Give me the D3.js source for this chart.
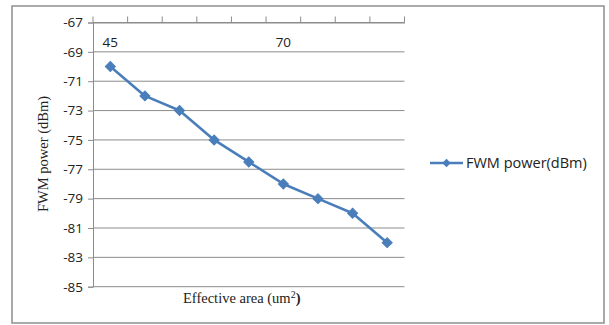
<!DOCTYPE html>
<html><head><meta charset="utf-8">
<script src="https://cdn.jsdelivr.net/npm/d3@7"></script>
<style>body{margin:0;background:#fff}svg{display:block}</style>
</head><body>
<svg id="c" width="609" height="325"></svg>
<script>
const categories = [45, 50, 55, 60, 65, 70, 75, 80, 85];
const shownLabels = [45, 70];
const fwmPower = [-70, -72, -73, -75, -76.5, -78, -79, -80, -82];
const yTicks = [-67, -69, -71, -73, -75, -77, -79, -81, -83, -85];
const seriesName = "FWM power(dBm)";

const svg = d3.select("#c");
const L = 93, R = 404.5, T = 22.5, B = 286.7;
const x = d3.scaleBand().domain(categories).range([L, R]);
const y = d3.scaleLinear().domain([-85, -67]).range([B, T]);
const blue = "#4A7EBB", grid = "#8c8c8c", sans = "'Open Sans', Arial, sans-serif", serif = "'Liberation Serif', 'Times New Roman', serif";

// outer border
svg.append("rect").attr("x", 12).attr("y", 6).attr("width", 592).attr("height", 317)
  .attr("fill", "none").attr("stroke", "#8e8e8e").attr("stroke-width", 1.5);

// gridlines
svg.append("g").selectAll("line").data(yTicks).join("line")
  .attr("x1", L).attr("x2", R).attr("y1", d => y(d)).attr("y2", d => y(d))
  .attr("stroke", grid).attr("stroke-width", 1);

// y axis
const yAxis = d3.axisLeft(y).tickValues(yTicks).tickSize(5).tickPadding(5).tickFormat(d => String(d));
const gy = svg.append("g").attr("transform", `translate(${L},0)`).call(yAxis);
gy.select(".domain").attr("stroke", grid);
gy.selectAll(".tick line").attr("stroke", grid);
gy.selectAll("text").attr("font-family", sans).attr("font-size", 13.5).attr("fill", "#222");

// x axis at top (crosses at max)
const xAxis = d3.axisBottom(x).tickSize(-6).tickSizeOuter(0).tickFormat("");
const gx = svg.append("g").attr("transform", `translate(0,${T})`).call(xAxis);
gx.select(".domain").attr("stroke", grid);
gx.selectAll(".tick line").attr("stroke", grid).attr("transform", d => `translate(${-x.bandwidth()/2},0)`);
gx.append("line").attr("x1", R).attr("x2", R).attr("y1", 0).attr("y2", -6).attr("stroke", grid);
svg.append("g").selectAll("text").data(shownLabels).join("text")
  .attr("x", d => x(d) + x.bandwidth() / 2).attr("y", 47)
  .attr("text-anchor", "middle").attr("font-family", sans).attr("font-size", 13.5).attr("fill", "#222")
  .text(d => d);

// line
const line = d3.line().x((d, i) => x(categories[i]) + x.bandwidth() / 2).y(d => y(d));
svg.append("path").datum(fwmPower).attr("d", line).attr("fill", "none")
  .attr("stroke", blue).attr("stroke-width", 2.6).attr("stroke-linejoin", "round");
const diamond = d3.symbol().type(d3.symbolSquare).size(50);
svg.append("g").selectAll("path").data(fwmPower).join("path")
  .attr("d", diamond)
  .attr("transform", (d, i) => `translate(${x(categories[i]) + x.bandwidth() / 2},${y(d)}) rotate(45)`)
  .attr("fill", blue).attr("stroke", blue).attr("stroke-width", 1);

// axis titles
svg.append("text").attr("transform", "translate(48,154) rotate(-90)")
  .attr("text-anchor", "middle").attr("font-family", serif).attr("font-size", 14.5).attr("fill", "#222")
  .text("FWM power (dBm)");
const xt = svg.append("text").attr("x", 183).attr("y", 303)
  .attr("font-family", serif).attr("font-size", 14.5).attr("fill", "#222");
xt.append("tspan").text("Effective area (um");
xt.append("tspan").attr("dy", -5).attr("font-size", 10).text("2");
xt.append("tspan").attr("dy", 5).attr("font-weight", "bold").text(")");

// legend
const lg = svg.append("g").attr("transform", "translate(430,163)");
lg.append("line").attr("x1", 0).attr("x2", 33).attr("y1", 0).attr("y2", 0).attr("stroke", blue).attr("stroke-width", 2.6);
lg.append("path").attr("d", d3.symbol().type(d3.symbolSquare).size(36)).attr("transform", "translate(16.5,0) rotate(45)").attr("fill", blue);
lg.append("text").attr("x", 36).attr("y", 5).attr("font-family", sans).attr("font-size", 14.5).attr("fill", "#222").text(seriesName);
</script>
</body></html>
